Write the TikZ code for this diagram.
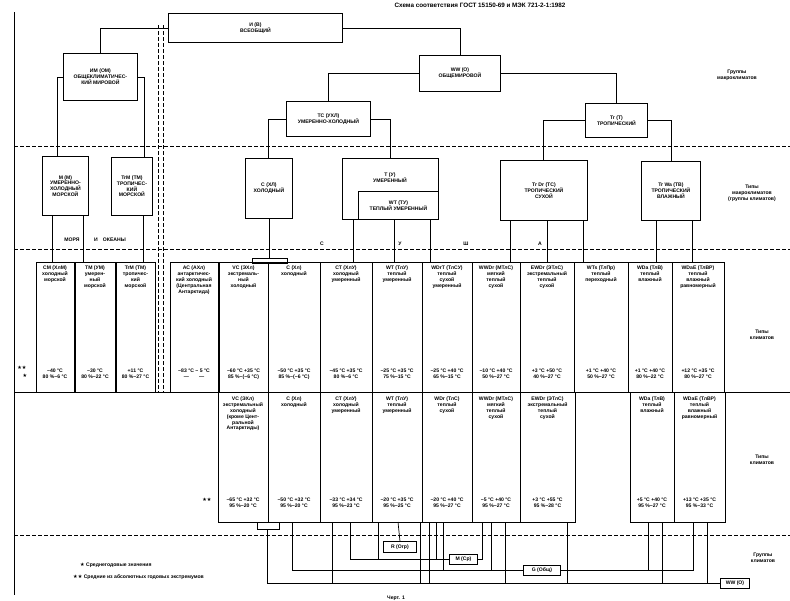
\documentclass[tikz,border=0pt]{standalone}
\usepackage{fontspec}
\setmainfont{Liberation Sans}
\newfontfamily\symf{DejaVu Sans}
\usetikzlibrary{positioning}
\tikzset{
  lbl/.style={font=\fontsize{5.1}{5.8}\selectfont\bfseries, align=center, inner sep=0pt},
  box/.style={draw, line width=0.9pt, lbl, inner sep=1pt, anchor=north west},
  cell/.style={draw, line width=0.8pt},
  sep/.style={dashed, line width=0.8pt, dash pattern=on 4pt off 2pt},
  wire/.style={line width=0.7pt}
}
\newcommand{\macbox}[6]{%
  \node[box, minimum width={#4-#2}, minimum height={#5-#3}] (#1) at (#2,#3) {#6};}
\begin{document}
\begin{tikzpicture}[x=1pt,y=-1pt]
\useasboundingbox (0,0) rectangle (790,600);
\node[lbl, font=\fontsize{6.3}{7}\selectfont\bfseries] (title) at (480,5) {Схема соответствия ГОСТ 15150-69 и МЭК 721-2-1:1982};
% frame lines
\draw[line width=0.9pt] (14,12) -- (14,595);
\draw[sep] (158,25) -- (158,392);
\draw[sep] (163,25) -- (163,392);
\foreach \yy in {146,249,535}
  \draw[sep] (14,\yy) -- (790,\yy);
\draw[line width=0.9pt] (14,392) -- (790,392);
% macroclimate groups
\macbox{I}{168}{13}{342}{42}{И (В)\\ВСЕОБЩИЙ}
\macbox{IM}{63}{53}{137}{100}{ИМ (ОМ)\\ОБЩЕКЛИМАТИЧЕС-\\КИЙ МИРОВОЙ}
\macbox{WW}{419}{55}{500}{91}{WW (О)\\ОБЩЕМИРОВОЙ}
\macbox{TC}{286}{101}{370}{136}{TC (УХЛ)\\УМЕРЕННО-ХОЛОДНЫЙ}
\macbox{Tr}{585}{103}{647}{137}{Tr (T)\\ТРОПИЧЕСКИЙ}
\macbox{M}{42}{156}{88}{215}{М (М)\\УМЕРЕННО-\\ХОЛОДНЫЙ\\МОРСКОЙ}
\macbox{TM}{111}{157}{152}{215}{TrM (ТМ)\\ТРОПИЧЕС-\\КИЙ\\МОРСКОЙ}
\macbox{S}{245}{158}{292}{218}{С (ХЛ)\\ХОЛОДНЫЙ}
\macbox{T}{342}{158}{438}{219}{}
\node[lbl] (Tt) at (390,178) {Т (У)\\УМЕРЕННЫЙ};
\macbox{WT}{358}{191}{438}{219}{WT (ТУ)\\ТЕПЛЫЙ УМЕРЕННЫЙ}
\macbox{TrDr}{500}{160}{587}{220}{Tr Dr (ТС)\\ТРОПИЧЕСКИЙ\\СУХОЙ}
\macbox{TrWa}{641}{161}{700}{220}{Tr Wa (ТВ)\\ТРОПИЧЕСКИЙ\\ВЛАЖНЫЙ}
\draw[wire] (I.west) -| (IM.north);
\draw[wire] (I.east) -| (WW.north);
\draw[wire] (WW.west) -| (TC.north);
\draw[wire] (WW.east) -| (Tr.north);
\draw[wire] (IM.west) -| ([xshift=-8pt]M.north);
\draw[wire] (IM.east) -| ([xshift=12pt]TM.north);
\draw[wire] (TC.west) -| ([xshift=-1pt]S.north);
\draw[wire] (TC.east) -| (T.north);
\draw[wire] (Tr.west) -| ([xshift=-1pt]TrDr.north);
\draw[wire] (Tr.east) -| (TrWa.north);
% links down to climate types
\foreach \xx in {52,83} \draw[wire] (\xx,215) -- (\xx,262);
\draw[wire] (143,215) -- (143,262);
\draw[wire] (252,263) rectangle (287,258);
\draw[wire] (269,218) -- (269,258);
\foreach \xx in {353,394,430} \draw[wire] (\xx,219) -- (\xx,262);
\foreach \xx in {510,547,583} \draw[wire] (\xx,220) -- (\xx,262);
\foreach \xx in {656,692} \draw[wire] (\xx,220) -- (\xx,262);
% climate types, first row
\draw[line width=0.9pt] (36,262) -- (36,392);
\foreach \xa/\xb/\nm/\val [count=\i] in {
  36/74/{СМ (ХлМ)\\холодный\\морской}/{−40 °C\\80 \%−6 °C},
  75/115/{ТМ (УМ)\\умерен-\\ный\\морской}/{−30 °C\\80 \%−22 °C},
  116/155/{TrM (ТМ)\\тропичес-\\кий\\морской}/{+11 °C\\80 \%−27 °C},
  170/218/{АС (АХл)\\антарктичес-\\кий холодный\\(Центральная\\Антарктида)}/{−83 °C − 5 °C\\—\qquad —},
  219/268/{VC (ЭХл)\\экстремаль-\\ный\\холодный}/{−60 °C +35 °C\\85 \%−(−6 °C)},
  268/320/{С (Хл)\\холодный}/{−50 °C +35 °C\\85 \%−(−6 °C)},
  320/372/{СТ (ХлУ)\\холодный\\умеренный}/{−45 °C +35 °C\\80 \%−6 °C},
  372/422/{WT (ТлУ)\\теплый\\умеренный}/{−25 °C +35 °C\\75 \%−15 °C},
  422/472/{WDrT (ТлСУ)\\теплый\\сухой\\умеренный}/{−25 °C +40 °C\\65 \%−15 °C},
  472/520/{WWDr (МТлС)\\мягкий\\теплый\\сухой}/{−10 °C +40 °C\\50 \%−27 °C},
  520/574/{EWDr (ЭТлС)\\экстремальный\\теплый\\сухой}/{+3 °C +50 °C\\40 \%−27 °C},
  574/628/{WTs (ТлПр)\\теплый\\переходный}/{+1 °C +40 °C\\50 \%−27 °C},
  628/672/{WDa (ТлВ)\\теплый\\влажный}/{+1 °C +40 °C\\80 \%−22 °C},
  672/724/{WDaE (ТлВР)\\теплый\\влажный\\равномерный}/{+12 °C +35 °C\\80 \%−27 °C}} {
  \draw[cell] (\xa,262) rectangle (\xb,392);
  \node[lbl, anchor=north] (a\i) at ({(\xa+\xb)/2},266) {\nm};
  \node[lbl] (av\i) at ({(\xa+\xb)/2},374) {\val};
}
% climate types, second row
\foreach \xa/\xb/\nm/\val [count=\i] in {
  218/268/{VC (ЭХл)\\экстремальный\\холодный\\(кроме Цент-\\ральной\\Антарктиды)}/{−65 °C +32 °C\\95 \%−20 °C},
  268/320/{С (Хл)\\холодный}/{−50 °C +32 °C\\95 \%−20 °C},
  320/372/{СТ (ХлУ)\\холодный\\умеренный}/{−33 °C +34 °C\\95 \%−23 °C},
  372/422/{WT (ТлУ)\\теплый\\умеренный}/{−20 °C +35 °C\\95 \%−25 °C},
  422/472/{WDr (ТлС)\\теплый\\сухой}/{−20 °C +40 °C\\95 \%−27 °C},
  472/520/{WWDr (МТлС)\\мягкий\\теплый\\сухой}/{−5 °C +40 °C\\95 \%−27 °C},
  520/575/{EWDr (ЭТлС)\\экстремальный\\теплый\\сухой}/{+3 °C +55 °C\\95 \%−28 °C},
  630/674/{WDa (ТлВ)\\теплый\\влажный}/{+5 °C +40 °C\\95 \%−27 °C},
  674/725/{WDaE (ТлВР)\\теплый\\влажный\\равномерный}/{+13 °C +35 °C\\95 \%−33 °C}} {
  \draw[cell] (\xa,392) rectangle (\xb,522);
  \node[lbl, anchor=north] (b\i) at ({(\xa+\xb)/2},397) {\nm};
  \node[lbl] (bv\i) at ({(\xa+\xb)/2},503) {\val};
}
% climate groups
\macbox{R}{383}{541}{416}{552}{R (Огр)}
\macbox{Mcp}{449}{554}{477}{564}{M (Ср)}
\macbox{G}{523}{565}{560}{575}{G (Общ)}
\macbox{WWo}{720}{578}{749}{588}{WW (О)}
\draw[wire] (257,522) rectangle (279,529);
\draw[wire] (267,529) |- (WWo.west);
\draw[wire] (292,522) |- (G.west);
\draw[wire] (G.east) -| (693,522);
\draw[wire] (648,522) -- (648,570);
\draw[wire] (350,522) |- (Mcp.west);
\draw[wire] (Mcp.east) -| (482,522);
\draw[wire] (398,522) -- (R.north);
\foreach \xx in {378,436} \draw[wire] (\xx,522) -- (\xx,559);
\foreach \xx in {443,491} \draw[wire] (\xx,522) -- (\xx,570);
\foreach \xx in {332,420,429,505,567,662,707} \draw[wire] (\xx,522) -- (\xx,583);
% side labels
\node[lbl] (lgm) at (737,75) {Группы\\макроклиматов};
\node[lbl] (ltm) at (752,193) {Типы\\макроклиматов\\(группы климатов)};
\node[lbl] (ltk1) at (762,335) {Типы\\климатов};
\node[lbl] (ltk2) at (762,460) {Типы\\климатов};
\node[lbl] (lgk) at (763,558) {Группы\\климатов};
\node[lbl] (sea1) at (72,240) {МОРЯ};
\node[lbl] (sea2) at (110,240) {И\quad ОКЕАНЫ};
\foreach \xx/\ch in {322/С,400/У,466/Ш,540/А}
  \node[lbl] (z\ch) at (\xx,244) {\ch};
\node[lbl] (st1) at (22,368) {\symf ★★};
\node[lbl] (st2) at (25,376) {\symf ★};
\node[lbl] (st3) at (207,500) {\symf ★★};
\node[lbl, anchor=west] (leg1) at (80,565) {{\symf ★} Среднегодовые значения};
\node[lbl, anchor=west] (leg2) at (73,577) {{\symf ★★} Средние из абсолютных годовых экстремумов};
\node[lbl] (fig) at (396,598) {Черт. 1};
\end{tikzpicture}
\end{document}
